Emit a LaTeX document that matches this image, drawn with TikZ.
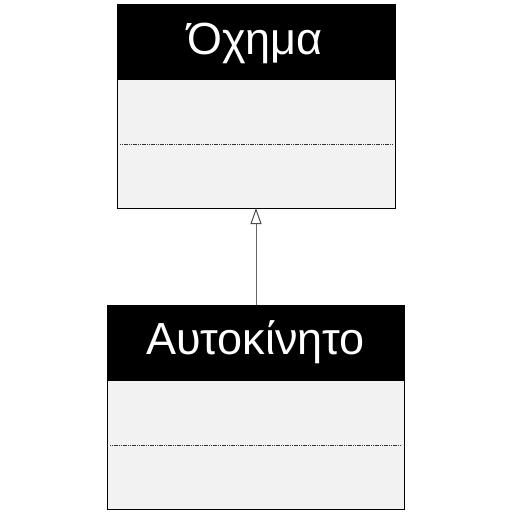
\documentclass[tikz,border=0pt]{standalone}
\usepackage{fontspec}
\setmainfont{Liberation Sans}
\usetikzlibrary{arrows.meta}
\begin{document}
\begin{tikzpicture}[x=1pt,y=-1pt,
  body/.style={draw=black,line width=1pt,fill=black!5},
  head/.style={fill=black},
  sep/.style={draw=black!80,line width=1pt,dash pattern=on 1.2pt off 0.6pt},
  title/.style={text=white,font=\fontsize{45}{52}\selectfont,inner sep=0pt,anchor=center},
  inh/.style={draw=black!60,line width=1pt,-{Triangle[open,length=16pt,width=11pt,fill=white,color=black!70]}}]
\useasboundingbox (0,0) rectangle (512,512);
% top class
\path[body] (117,4) rectangle (395,208);
\path[head] (117,4) rectangle (395,80);
\node[title] (t1) at (255,43) {Όχημα};
\draw[sep] (120,144) -- (392,144);
\coordinate (a1) at (256,208);
% bottom class
\path[body] (107,305) rectangle (404,509);
\path[head] (107,305) rectangle (404,381);
\node[title] (t2) at (255.5,342) {Αυτοκίνητο};
\draw[sep] (110,445) -- (401,445);
\coordinate (a2) at (256,305);
\draw[inh] (a2) -- (a1);
\end{tikzpicture}
\end{document}
